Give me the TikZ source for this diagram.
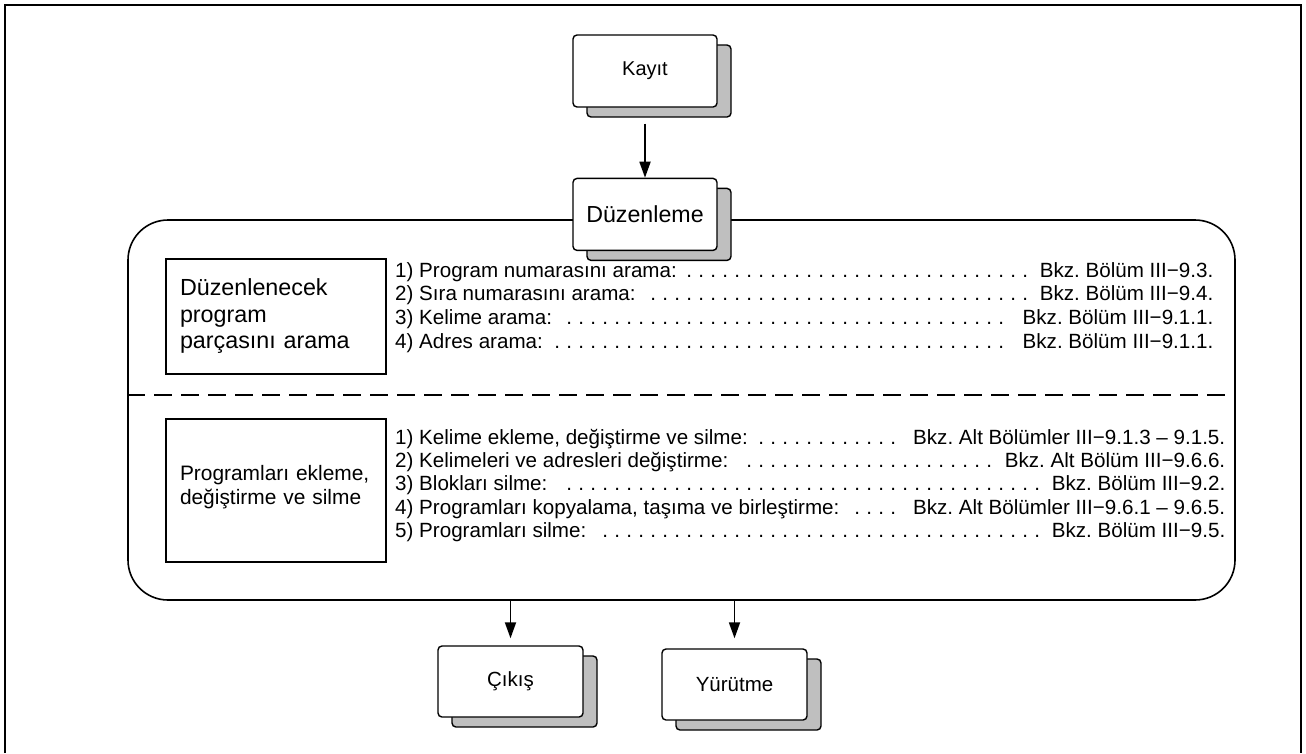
\documentclass[tikz,border=0pt]{standalone}
\usepackage{fontspec}
\setmainfont{Liberation Sans}
\usepackage{tikz}
\usetikzlibrary{arrows.meta, positioning, shadows}
\tikzstyle{stack} = [rectangle, rounded corners=4pt, draw=black, line width=1.4pt, fill=white, minimum width=144pt, minimum height=72pt, align=center, copy shadow={shadow xshift=14pt, shadow yshift=-10pt, fill=black!25, draw=black, line width=1.4pt}]
\tikzstyle{topic} = [rectangle, draw=black, line width=1.4pt, minimum width=220pt, text width=192pt, inner xsep=14pt, align=left]
\tikzstyle{items} = [anchor=north west, inner sep=0pt, align=left, font=\fontsize{20.6}{23.6}\selectfont]
\tikzstyle{arrow} = [line width=1.8pt, -{Triangle[length=16pt, width=11pt]}]
\newcommand{\dotlead}{\leaders\hbox to 12pt{\hss.\hss}\hfill\hspace{5pt}}
\frenchspacing

\begin{document}
\begin{tikzpicture}[x=1pt, y=-1pt]
  \useasboundingbox (0,0) rectangle (1306,753);
  % dış çerçeve
  \draw[line width=2pt] (5,753) -- (5,4.5) -- (1300.5,4.5) -- (1300.5,753);

  % Üst kutu
  \node[stack, font=\fontsize{20}{24}\selectfont] (kayit) at (645,71) {Kayıt};

  % Düzenleme alanı
  \node[draw=black, line width=1.6pt, rounded corners=40pt, minimum width=1107pt, minimum height=380pt] (edit) at (681.5,410) {};
  \draw[line width=1.3pt, dash pattern=on 18pt off 9pt] ([yshift=15pt]edit.west) -- ([yshift=15pt]edit.east);
  \node[stack, below=70pt of kayit, font=\fontsize{23.2}{26}\selectfont] (duz) {Düzenleme};

  % Sol kutular
  \node[topic, minimum height=115pt, font=\fontsize{23.3}{26.5}\selectfont] (ara) at (276,316.5) {Düzenlenecek\\program\\parçasını arama};
  \node[topic, minimum height=143pt, text depth=36pt, font=\fontsize{20.9}{24}\selectfont] (ekle) at (276,490.5) {Programları ekleme,\\değiştirme ve silme};

  % Madde listeleri
  \node[items] (liste1) at (395,260.5) {%
    \makebox[818pt][l]{\strut 1) Program numarasını arama: \dotlead Bkz. Bölüm III−9.3.}\\
    \makebox[818pt][l]{\strut 2) Sıra numarasını arama: \dotlead Bkz. Bölüm III−9.4.}\\
    \makebox[818pt][l]{\strut 3) Kelime arama: \dotlead Bkz. Bölüm III−9.1.1.}\\
    \makebox[818pt][l]{\strut 4) Adres arama: \dotlead Bkz. Bölüm III−9.1.1.}};
  \node[items, font=\fontsize{20.6}{23.4}\selectfont] (liste2) at (395,427.5) {%
    \makebox[830pt][l]{\strut 1) Kelime ekleme, değiştirme ve silme: \dotlead Bkz. Alt Bölümler III−9.1.3 – 9.1.5.}\\
    \makebox[830pt][l]{\strut 2) Kelimeleri ve adresleri değiştirme: \dotlead Bkz. Alt Bölüm III−9.6.6.}\\
    \makebox[830pt][l]{\strut 3) Blokları silme: \dotlead Bkz. Bölüm III−9.2.}\\
    \makebox[830pt][l]{\strut 4) Programları kopyalama, taşıma ve birleştirme: \dotlead Bkz. Alt Bölümler III−9.6.1 – 9.6.5.}\\
    \makebox[830pt][l]{\strut 5) Programları silme: \dotlead Bkz. Bölüm III−9.5.}};

  % Alt kutular
  \node[stack, minimum width=145pt, minimum height=71pt, font=\fontsize{20.5}{24}\selectfont] (cikis) at (510.5,681.5) {Çıkış};
  \node[stack, minimum width=145pt, minimum height=71pt, font=\fontsize{20.5}{24}\selectfont] (yurut) at (734.5,684.5) {Yürütme};

  % Oklar
  \draw[arrow] ([yshift=-16pt]kayit.south) -- (duz.north);
  \draw[arrow] (edit.south -| cikis.north) -- ([yshift=7pt]cikis.north);
  \draw[arrow] (edit.south -| yurut.north) -- ([yshift=10pt]yurut.north);
\end{tikzpicture}
\end{document}
